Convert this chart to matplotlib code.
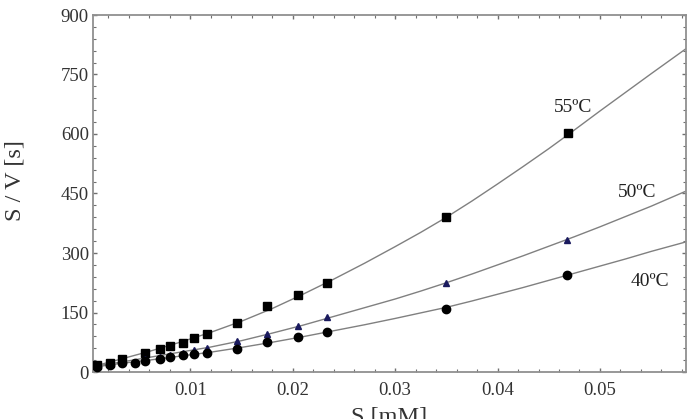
import matplotlib
matplotlib.use("Agg")
import matplotlib.pyplot as plt
from matplotlib.ticker import MultipleLocator

plt.rcParams['font.family'] = ['Liberation Serif', 'DejaVu Serif']

# measured points
s55 = [0.0009, 0.0022, 0.0033, 0.0056, 0.0070, 0.0080, 0.0093, 0.0104, 0.0116,
       0.0146, 0.0175, 0.0205, 0.0233, 0.0350, 0.0469]
v55 = [18, 23, 32, 47, 57, 66, 74, 86, 97, 123, 166, 194, 224, 390, 603]

s50 = [0.0009, 0.0022, 0.0033, 0.0056, 0.0070, 0.0080, 0.0093, 0.0104, 0.0116,
       0.0146, 0.0175, 0.0205, 0.0233, 0.0350, 0.0468]
v50 = [15, 20, 26, 33, 38, 44, 49, 55, 60, 77, 96, 117, 139, 225, 334]

s40 = [0.0009, 0.0022, 0.0033, 0.0046, 0.0056, 0.0070, 0.0080, 0.0093, 0.0104,
       0.0116, 0.0146, 0.0175, 0.0205, 0.0233, 0.0350, 0.0468]
v40 = [13, 18, 22, 23, 28, 32, 38, 42, 45, 49, 58, 76, 87, 101, 159, 244]

# fitted curves
xf = [0.0005, 0.003, 0.006, 0.009, 0.012, 0.015, 0.018, 0.021, 0.024, 0.027,
      0.030, 0.0325, 0.035, 0.0375, 0.040, 0.0425, 0.045, 0.0475, 0.050,
      0.0525, 0.055, 0.0584]
f55 = [14, 31, 52, 75, 100, 128, 160, 196, 234, 274, 316, 352, 390, 431, 474,
       518, 563, 610, 658, 705, 752, 815]
f50 = [14, 24, 37, 50, 63, 79, 98, 118, 140, 162, 184, 204, 225, 247, 270,
       293, 317, 341, 366, 392, 418, 456]
f40 = [12, 21, 30, 40, 50, 62, 75, 89, 104, 119, 135, 149, 163, 179, 196,
       213, 231, 249, 267, 285, 304, 328]

labels = ["55ºC", "50ºC", "40ºC"]
label_pos = [(0.0474, 668), (0.0536, 453), (0.0549, 227)]

fig = plt.figure(figsize=(6.94, 4.19), dpi=100)
ax = fig.add_axes([93/694, 1 - 372/419, (686-93)/694, (372-15)/419])

lc = '#808080'
for f in (f55, f50, f40):
    ax.plot(xf, f, color=lc, lw=1.0, zorder=2)

ax.plot(s55, v55, 's', color='black', ms=6, zorder=3)
ax.plot(s50, v50, '^', color='#1a1a5e', ms=4, zorder=3)
ax.plot(s40, v40, 'o', color='black', ms=6, zorder=3)

for t, (x, y) in zip(labels, label_pos):
    ax.text(x, y, t, fontsize=14, ha='center', va='center', color='#222222')

ax.set_xlim(0.0005, 0.0584)
ax.set_ylim(0, 900)
ax.xaxis.set_minor_locator(MultipleLocator(0.002))
ax.yaxis.set_major_locator(MultipleLocator(150))
ax.yaxis.set_minor_locator(MultipleLocator(30))
ax.set_xticks([0.01, 0.02, 0.03, 0.04, 0.05])
ax.set_xticklabels(["0.01", "0.02", "0.03", "0.04", "0.05"])

for sp in ax.spines.values():
    sp.set_color('#909090')
    sp.set_linewidth(1.3)
ax.tick_params(which='both', direction='in', top=True, right=True, color='#707070')
ax.tick_params(which='major', length=3, width=1, labelsize=13.5, labelcolor='#333333')
ax.tick_params(axis='y', which='major', pad=3)
ax.tick_params(axis='x', which='major', pad=7)
ax.tick_params(which='minor', length=2, width=0.8)

ax.set_ylabel("S / V [s]", fontsize=17.5, color='#333333')
ax.yaxis.set_label_coords(-0.113, 0.535)
ax.set_xlabel("S [mM]", fontsize=17.5, color='#333333')
ax.xaxis.set_label_coords(0.5, -0.098)

fig.savefig("out.png", dpi=100)
